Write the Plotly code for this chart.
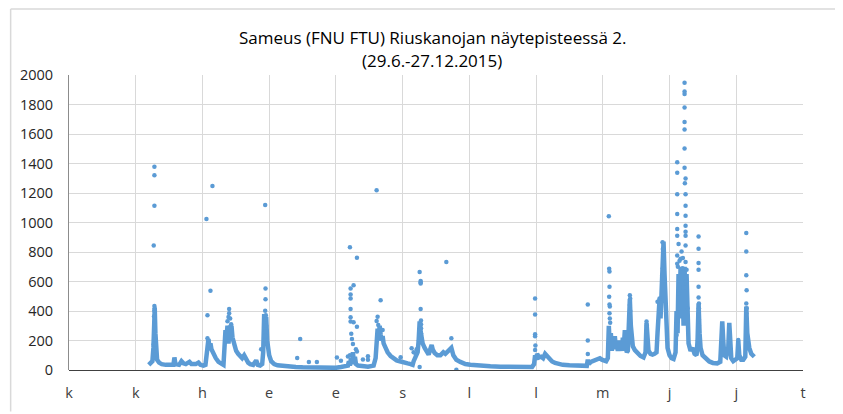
import plotly.graph_objects as go

# x in days along the axis (tick spacing = 20 days), y = turbidity (FNU FTU)
tick_vals = [0, 20, 40, 60, 80, 100, 120, 140, 160, 180, 200, 220]
tick_text = ["k", "k", "h", "e", "e", "s", "l", "l", "m", "j", "j", "t"]
title_lines = ["Sameus (FNU FTU) Riuskanojan näytepisteessä 2.", "(29.6.-27.12.2015)"]

# dense baseline (continuous band of measurements)
band_x = [23.9, 24.5, 25.0, 25.3, 25.5, 25.7, 25.9, 26.1, 26.4, 27.0, 27.8, 29.0, 30.5, 31.3, 31.6, 31.9, 33.0, 33.7, 34.3, 35.0, 36.1, 36.7, 38.0, 38.8, 39.4, 40.3, 40.9,
          41.2, 41.5, 41.8, 42.1, 42.4, 42.7, 43.3, 44.0, 44.8, 45.7, 46.3,
          46.6, 46.9, 47.2, 47.5, 47.8, 48.1, 48.4, 48.7, 49.0, 49.3, 49.6, 50.1, 50.7, 51.3, 51.9, 52.5, 53.1, 53.7, 54.3, 55.2, 56.1, 56.6, 57.3, 57.9,
          58.2, 58.5, 58.8, 59.1, 59.4, 59.7, 60.0, 60.6, 61.5, 62.5, 64, 66, 68, 70, 72, 74, 76, 78, 80, 81.5, 82.5,
          83.6, 83.9, 84.2, 84.5, 84.8, 85.1, 85.4, 85.7, 86.0, 86.6, 87.5, 88.5, 89.6, 90.6, 91.3,
          91.9, 92.2, 92.5, 92.8, 93.1, 93.4, 93.7, 94.0, 94.3, 94.9, 95.5, 96.4, 97.3, 98.2, 99.4, 100.3, 101.5, 102.4, 103.0,
          103.3, 103.9, 104.5, 104.8, 105.1, 105.4, 105.7, 106.0, 106.6, 107.2, 107.8, 108.4, 108.7, 109.0, 109.6, 110.4, 111.3, 112.2, 112.8, 113.7, 114.3, 114.6, 115.2, 116.1, 117.3, 118.8, 120.3, 121.8, 124, 126.3, 129.3, 132.2, 135.2, 137.5, 138.8,
          139.4, 139.7, 140.0, 140.3, 140.9, 141.5, 142.1, 142.7, 143.3, 143.9, 144.8, 145.7, 146.6, 148, 150, 152, 154, 155.2,
          155.5, 155.8, 156.4, 157.6, 158.5, 159.1, 159.7, 160.3, 161.0, 161.5,
          161.8, 162.1, 162.4, 162.7, 163.0, 163.3, 163.6, 163.9, 164.2, 164.5, 164.8, 165.1, 165.4, 165.7, 166.0, 166.3, 166.6, 166.9, 167.2, 167.5, 167.8, 168.1, 168.4, 168.7, 169.0, 169.6, 170.4, 171.3, 172.2, 172.8, 173.1, 173.4, 173.7, 174.3, 174.9, 175.5, 176.1,
          176.4, 176.7, 177.0, 177.3, 177.6, 177.9, 178.2, 178.5, 178.8, 179.1, 179.4, 180.0, 180.6, 181.2,
          181.8, 182.1, 182.4, 182.7, 183.0, 183.3, 183.6, 183.9, 184.2, 184.5, 184.8, 185.1, 185.4, 185.7, 186.3, 186.9, 187.5, 188.1,
          188.4, 188.7, 189.0, 189.3, 189.9, 190.7, 191.9, 193.0, 194.3, 195.2,
          195.5, 195.8, 196.1, 196.4, 197.0, 197.6, 197.9, 198.2, 198.5, 199.1, 199.7, 200.3, 200.6, 200.9, 201.5, 202.1, 202.7,
          203.0, 203.3, 203.6, 203.9, 204.5, 205.0, 205.4]
band_y = [35, 45, 60, 150, 300, 420, 250, 120, 70, 50, 40, 35, 33, 35, 85, 40, 35, 60, 45, 40, 55, 40, 40, 50, 35, 30, 35,
          80, 150, 210, 150, 180, 140, 110, 80, 55, 40, 35,
          150, 270, 220, 300, 180, 260, 200, 300, 220, 190, 170, 130, 110, 95, 80, 100, 70, 50, 40, 35, 65, 35, 30, 40,
          120, 380, 250, 360, 200, 130, 100, 60, 40, 32, 27, 22, 20, 18, 16, 15, 14, 14, 15, 20, 25,
          30, 60, 30, 80, 40, 120, 50, 90, 40, 30, 25, 25, 22, 25, 30,
          80, 200, 280, 200, 300, 240, 200, 230, 180, 150, 120, 95, 80, 65, 58, 50, 45, 40, 35,
          60, 90, 120, 200, 330, 260, 215, 180, 150, 120, 105, 150, 170, 140, 115, 100, 100, 120, 110, 130, 140, 150, 100, 70, 55, 40, 35, 31, 28, 25, 22, 20, 18, 18, 20,
          40, 100, 70, 110, 85, 90, 80, 110, 95, 75, 58, 48, 40, 35, 32, 31, 30, 28,
          70, 40, 55, 65, 70, 80, 70, 65, 60, 80,
          300, 150, 250, 130, 200, 140, 230, 150, 180, 130, 200, 150, 170, 130, 220, 160, 270, 150, 120, 130, 250, 480, 300, 200, 160, 135, 110, 95, 85, 120, 320, 200, 130, 110, 105, 110, 120,
          250, 420, 480, 350, 600, 750, 870, 650, 500, 280, 150, 100, 80, 75,
          120, 400, 250, 650, 350, 700, 450, 600, 300, 700, 400, 650, 250, 180, 130, 150, 110, 100,
          200, 450, 250, 150, 100, 80, 58, 48, 45, 55,
          150, 330, 200, 100, 90, 150, 320, 150, 80, 60, 70, 80, 200, 100, 70, 70, 90,
          430, 250, 180, 150, 110, 95, 90]

# individual readings standing out from the band
dot_x = [25.6, 25.6, 25.6, 25.4, 25.6, 25.7, 25.6, 25.5, 25.7, 25.6, 25.5, 25.4, 25.8, 25.6, 25.7,
         41.2, 43.0, 42.4, 41.5, 41.5, 41.8, 42.1,
         48.0, 48.0, 48.3, 48.6, 47.5, 47.8, 48.1,
         58.8, 58.9, 58.9, 58.8, 59.0, 58.9, 59.1, 58.8, 59.0, 58.9, 57.6,
         69.3, 68.4, 71.9, 74.3, 80.3, 81.5, 83.6,
         84.2, 86.3, 85.3, 84.4, 84.4, 84.4, 84.4, 84.4, 84.4, 85.3, 86.3, 84.6, 84.8, 85.1, 86.3, 86.0, 84.2, 88.1, 89.6, 89.6,
         92.2, 93.4, 92.5, 92.2, 92.7, 94.0, 99.4,
         105.1, 105.4, 105.4, 105.4, 105.4, 105.5, 105.5, 105.5, 105.5, 105.5, 102.7, 103.3, 103.9, 104.2, 105.1,
         113.1, 114.6, 116.1,
         139.7, 139.7, 139.7, 139.7, 139.8, 139.7,
         155.5, 155.5, 155.5,
         161.8, 161.9, 162.0, 162.0, 161.9, 162.0, 162.1, 162.0, 162.1, 162.2,
         168.1, 168.2, 168.1, 168.2, 168.1,
         173.1, 173.2, 173.1,
         176.4, 177.0, 177.9, 178.0, 178.1, 178.2, 178.0, 177.8,
         184.5, 184.5, 184.5, 184.5, 184.5, 184.5, 184.5, 182.3, 184.5, 182.3, 184.8, 184.6, 182.3, 184.8, 184.8, 182.3, 184.8, 184.8, 182.3, 184.8, 182.3, 184.8, 182.7, 184.8, 183.6, 182.3, 183.3, 184.8, 182.3, 183.0, 184.0, 182.5, 183.9, 185.1, 185.4, 182.1, 184.2, 182.8, 184.9,
         188.7, 188.7, 188.7, 188.7, 188.7, 188.7, 188.8, 188.8, 188.7, 188.8, 188.8,
         200.6,
         203.0, 203.0, 203.0, 203.1, 203.0, 203.1, 203.0, 203.0, 203.1]
dot_y = [1378, 1320, 1113, 844, 434, 418, 402, 364, 330, 256, 204, 175, 175, 148, 103,
         1023, 1248, 537, 372, 215, 190, 170,
         413, 384, 350, 310, 330, 360, 290,
         1118, 552, 480, 402, 372, 340, 300, 262, 230, 200, 141,
         211, 81, 54, 54, 85, 63, 92,
         833, 761, 575, 552, 512, 485, 413, 357, 328, 323, 294, 245, 211, 177, 126, 140, 100, 72, 94, 70,
         1219, 473, 361, 332, 305, 272, 86,
         665, 604, 595, 586, 413, 335, 310, 283, 250, 238, 148, 120, 110, 140, 20,
         732, 215, 2,
         485, 377, 242, 229, 166, 135,
         444, 200, 108,
         1042, 687, 667, 564, 496, 444, 431, 384, 350, 320,
         507, 485, 440, 400, 360,
         328, 300, 260,
         462, 485, 866, 820, 780, 730, 690, 640,
         1948, 1888, 1872, 1780, 1681, 1630, 1502, 1409, 1372, 1338, 1298, 1266, 1192, 1192, 1113, 1057, 1046, 978, 956, 938, 911, 911, 855, 844, 803, 776, 754, 732, 720, 740, 760, 700, 690, 680, 418, 238, 560, 520, 600,
         905, 822, 725, 680, 564, 492, 451, 418, 380, 340, 300,
         204,
         929, 803, 642, 541, 451, 418, 384, 350, 330]

blue = "#5B9BD5"
fig = go.Figure()
fig.add_trace(go.Scatter(x=band_x, y=band_y, mode="lines",
                         line=dict(color=blue, width=4.5), hoverinfo="skip", showlegend=False))
fig.add_trace(go.Scatter(x=dot_x, y=dot_y, mode="markers",
                         marker=dict(color=blue, size=4.5), showlegend=False))

border = dict(color="#D9D9D9", width=1.5)
title_font = dict(family="Open Sans, sans-serif", size=17, color="#000000")
fig.update_layout(
    width=835, height=406,
    margin=dict(l=59, r=40, t=67, b=42),
    paper_bgcolor="white", plot_bgcolor="white",
    font=dict(family="Open Sans, sans-serif", color="#404040", size=14),
    xaxis=dict(range=[0, 220], tickmode="array", tickvals=tick_vals, ticktext=tick_text,
               showgrid=True, gridcolor="#D9D9D9", gridwidth=1, zeroline=False,
               showline=False, ticks="", ticklabelstandoff=12,
               tickfont=dict(size=14.5, color="#404040")),
    yaxis=dict(range=[0, 2000], dtick=200, showgrid=True, gridcolor="#D9D9D9", gridwidth=1,
               zeroline=True, zerolinecolor="#404040", zerolinewidth=1.2,
               showline=True, linecolor="#8C8C8C", linewidth=1,
               ticks="", ticklabelstandoff=12,
               tickfont=dict(size=14.5, color="#262626")),
    annotations=[
        dict(text=title_lines[0], xref="paper", yref="paper", x=0.4946, y=1.128,
             xanchor="center", yanchor="middle", showarrow=False, font=title_font),
        dict(text=title_lines[1], xref="paper", yref="paper", x=0.4946, y=1.0505,
             xanchor="center", yanchor="middle", showarrow=False, font=title_font),
    ],
    shapes=[
        dict(type="line", xref="paper", yref="paper", x0=-0.0795, x1=1.0476, y0=1.2239, y1=1.2239, line=border, layer="below"),
        dict(type="line", xref="paper", yref="paper", x0=-0.0795, x1=-0.0795, y0=1.2239, y1=-0.141, line=border, layer="below"),
        dict(type="line", xref="paper", yref="paper", x0=1.0476, x1=1.0476, y0=1.2239, y1=0.12, line=border, layer="below"),
    ],
)

fig.write_html("out.html")
